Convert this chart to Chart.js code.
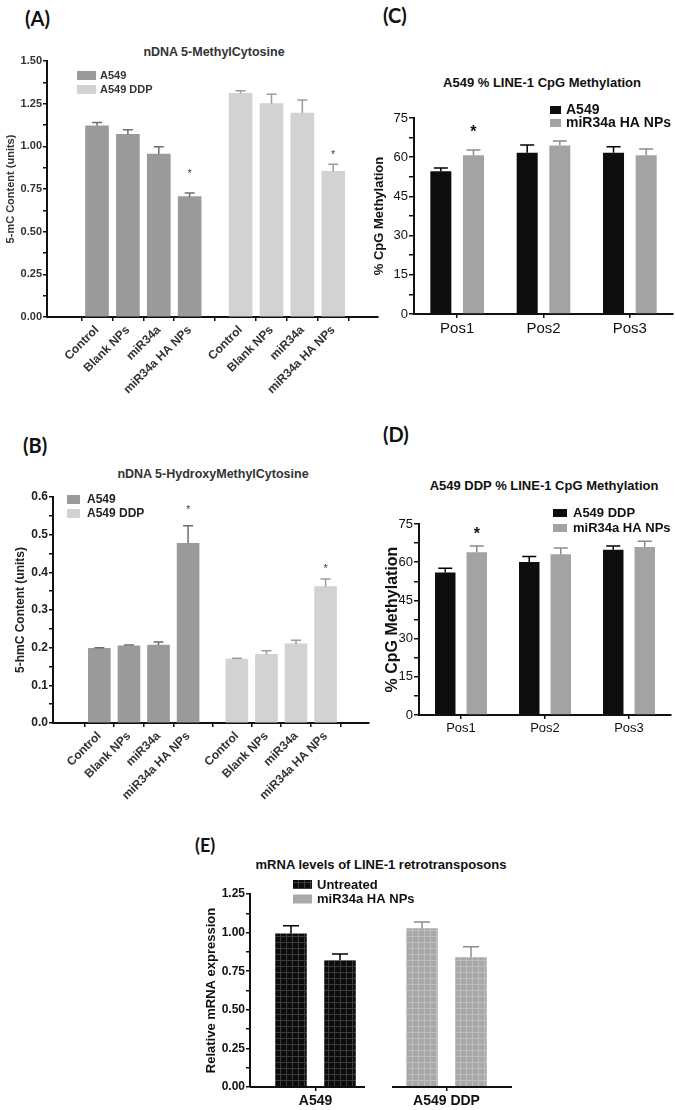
<!DOCTYPE html>
<html>
<head>
<meta charset="utf-8">
<script src="https://cdn.jsdelivr.net/npm/chart.js@4.4.1/dist/chart.umd.min.js"></script>
<style>
  body { margin: 0; background: #fff; }
  #page { position: relative; width: 675px; height: 1110px; overflow: hidden; background: #fff;
          font-family: "Liberation Sans", Arial, sans-serif; }
  #page canvas { position: absolute; }
  .ttl { position: absolute; white-space: nowrap; font-weight: bold; transform: translate(-50%, -50%); }
  .tag { position: absolute; white-space: nowrap; font-family: Lato, "Open Sans", sans-serif; font-weight: bold;
         font-size: 20px; color: #111; transform: translateY(-50%); }
</style>
</head>
<body>
<div id="page">
  <div class="tag" style="left:25px;top:18px">(A)</div>
  <div class="tag" style="left:23px;top:445px">(B)</div>
  <div class="tag" style="left:383px;top:15px">(C)</div>
  <div class="tag" style="left:383px;top:434px">(D)</div>
  <div class="tag" style="left:195px;top:845px;font-size:18px">(E)</div>

  <div class="ttl" style="left:214px;top:52px;font-size:12.5px;color:#333">nDNA 5-MethylCytosine</div>
  <div class="ttl" style="left:213px;top:474px;font-size:12.5px;color:#333">nDNA 5-HydroxyMethylCytosine</div>
  <div class="ttl" style="left:542px;top:82px;font-size:13px;color:#111">A549 % LINE-1 CpG Methylation</div>
  <div class="ttl" style="left:544px;top:485px;font-size:13px;color:#111">A549 DDP % LINE-1 CpG Methylation</div>
  <div class="ttl" style="left:381px;top:864px;font-size:13px;color:#111">mRNA levels of LINE-1 retrotransposons</div>

  <canvas id="chartA"></canvas>
  <canvas id="chartB"></canvas>
  <canvas id="chartC"></canvas>
  <canvas id="chartD"></canvas>
  <canvas id="chartE"></canvas>
</div>

<script>
// ---- data ----
const treatments = ['Control', 'Blank NPs', 'miR34a', 'miR34a HA NPs'];

// (A) 5-mC content
const mcA549 = [1.12, 1.07, 0.955, 0.705];
const mcA549Err = [0.02, 0.027, 0.043, 0.022];
const mcA549Star = [null, null, null, 0.84];
const mcDDP = [1.31, 1.25, 1.195, 0.853];
const mcDDPErr = [0.016, 0.055, 0.076, 0.042];
const mcDDPStar = [null, null, null, 0.95];

// (B) 5-hmC content
const hmcA549 = [0.198, 0.205, 0.207, 0.477];
const hmcA549Err = [0.002, 0.002, 0.008, 0.047];
const hmcA549Star = [null, null, null, 0.565];
const hmcDDP = [0.170, 0.182, 0.210, 0.362];
const hmcDDPErr = [0.002, 0.010, 0.010, 0.020];
const hmcDDPStar = [null, null, null, 0.41];

// (C) / (D) LINE-1 CpG methylation
const cpgPositions = ['Pos1', 'Pos2', 'Pos3'];
const cpgA549 = [54.6, 61.7, 61.7];
const cpgA549Err = [1.3, 3.0, 2.3];
const cpgA549Np = [60.7, 64.5, 60.7];
const cpgA549NpErr = [2.1, 1.7, 2.4];
const cpgA549NpStar = [69.3, null, null];
const cpgDDP = [56.0, 60.1, 64.9];
const cpgDDPErr = [1.6, 2.1, 1.5];
const cpgDDPNp = [63.9, 63.1, 66.0];
const cpgDDPNpErr = [2.5, 2.5, 2.2];
const cpgDDPNpStar = [70.7, null, null];

// (E) LINE-1 mRNA
const cellLines = ['A549', 'A549 DDP'];
const mrnaUntreated = [0.994, 1.028];
const mrnaUntreatedErr = [0.051, 0.041];
const mrnaNp = [0.821, 0.841];
const mrnaNpErr = [0.041, 0.068];

// ---- layout helpers ----
Chart.defaults.font.family = "'Liberation Sans', Arial, sans-serif";
Chart.defaults.color = '#222';

const GROUP_GAP = 0.65;   // extra spacing between the two cell-line groups in A and B
const slotOf = i => i + (i >= treatments.length ? GROUP_GAP : 0);
const slots = treatments.concat(treatments).map((_, i) => slotOf(i));
const asPoints = (vals, offset) => vals.map((v, i) => ({ x: slotOf(i + offset), y: v }));

function setupCanvas(id, box) {
    const c = document.getElementById(id);
    c.width = box.width;
    c.height = box.height;
    c.style.left = box.left + 'px';
    c.style.top = box.top + 'px';
    c.style.width = box.width + 'px';
    c.style.height = box.height + 'px';
    return c;
}

function yAxis(o) {
    return {
        min: 0, max: o.max,
        ticks: {
            stepSize: o.step, autoSkip: false, padding: 1, color: o.color, font: o.font,
            callback: (v, i) => (i % 2 ? '' : o.fmt(v))
        },
        grid: { drawOnChartArea: false, drawTicks: true, tickLength: o.tick || 4, color: '#111', lineWidth: 1.5 },
        border: { display: true, color: '#111', width: 2 },
        title: { display: true, text: o.title, color: o.color, font: o.titleFont, padding: { top: o.titlePad, bottom: 0 } }
    };
}

// error bars (upward only) and significance stars
const errorBars = {
    id: 'errorBars',
    afterDatasetsDraw(chart) {
        const ctx = chart.ctx;
        const y = chart.scales.y;
        chart.data.datasets.forEach((ds, di) => {
            if (!ds.errors) return;
            const meta = chart.getDatasetMeta(di);
            meta.data.forEach((bar, i) => {
                const raw = ds.data[i];
                const val = typeof raw === 'number' ? raw : raw.y;
                const top = y.getPixelForValue(val + ds.errors[i]);
                ctx.save();
                ctx.strokeStyle = Array.isArray(ds.errorColor) ? ds.errorColor[i] : ds.errorColor;
                ctx.lineWidth = 1.5;
                ctx.beginPath();
                ctx.moveTo(bar.x, bar.y);
                ctx.lineTo(bar.x, top);
                ctx.moveTo(bar.x - ds.capWidth / 2, top);
                ctx.lineTo(bar.x + ds.capWidth / 2, top);
                ctx.stroke();
                if (ds.stars && ds.stars[i] != null) {
                    ctx.fillStyle = ds.starColor || '#111';
                    ctx.font = ds.starFont;
                    ctx.textAlign = 'center';
                    ctx.textBaseline = 'middle';
                    ctx.fillText('*', bar.x, y.getPixelForValue(ds.stars[i]));
                }
                ctx.restore();
            });
        });
    }
};

// small boxed legend drawn at a fixed spot (page coordinates)
const boxLegend = {
    id: 'boxLegend',
    afterDraw(chart, args, o) {
        if (o.x == null) return;
        const ctx = chart.ctx;
        const ox = chart.canvas.offsetLeft, oy = chart.canvas.offsetTop;
        ctx.save();
        ctx.font = o.font;
        ctx.textBaseline = 'middle';
        chart.data.datasets.forEach((ds, i) => {
            const yy = o.y + i * o.step - oy;
            const xx = o.x - ox;
            ctx.fillStyle = o.swatches ? o.swatches[i] : ds.backgroundColor;
            ctx.fillRect(xx, yy, o.w, o.h);
            ctx.fillStyle = o.color;
            ctx.fillText(ds.label, xx + o.w + o.gap, yy + o.h / 2 + 0.5);
        });
        ctx.restore();
    }
};

// x axis drawn as one segment per group (panel E)
const splitAxis = {
    id: 'splitAxis',
    afterDraw(chart, args, o) {
        if (!o.on) return;
        const x = chart.scales.x;
        const n = chart.data.labels.length;
        const w = (x.right - x.left) / n;
        const ctx = chart.ctx;
        ctx.save();
        ctx.strokeStyle = '#111';
        ctx.lineWidth = 2;
        for (let i = 0; i < n; i++) {
            const a = x.left + i * w + (i > 0 ? o.gapAfter : 0);
            const b = x.left + (i + 1) * w - (i < n - 1 ? o.gapBefore : 0);
            ctx.beginPath();
            ctx.moveTo(a, x.top);
            ctx.lineTo(b, x.top);
            ctx.stroke();
        }
        ctx.restore();
    }
};

function makeChart(id, box, area, config) {
    const canvas = setupCanvas(id, box);
    config.options.responsive = false;
    config.options.animation = false;
    config.options.devicePixelRatio = 1;
    config.options.layout = {
        padding: { top: area.t - box.top, right: box.left + box.width - area.r, left: 0, bottom: 0 }
    };
    config.options.scales.x.afterFit = s => { s.height = box.top + box.height - area.b; };
    config.options.scales.y.afterFit = s => { s.width = area.l - box.left; };
    config.plugins = [errorBars, boxLegend, splitAxis];
    return new Chart(canvas.getContext('2d'), config);
}

function gridPattern(base, line) {
    const c = document.createElement('canvas');
    c.width = 6; c.height = 6;
    const g = c.getContext('2d');
    g.fillStyle = base;
    g.fillRect(0, 0, 6, 6);
    g.fillStyle = line;
    g.fillRect(0, 0, 1, 6);
    g.fillRect(0, 0, 6, 1);
    return g.createPattern(c, 'repeat');
}

const darkGray = '#9a9a9a', lightGray = '#d2d2d2';
const black = '#0d0d0d', midGray = '#a3a3a3';

// ---- (A) ----
function groupedXAxis(o) {
    return {
        type: 'linear', min: o.min, max: o.max,
        afterBuildTicks: s => { s.ticks = slots.map(v => ({ value: v })); },
        ticks: {
            autoSkip: false, minRotation: 45, maxRotation: 45, padding: 2, color: '#333',
            font: { size: 12, weight: 'bold' },
            callback: (v, i) => treatments[i % treatments.length]
        },
        grid: { drawOnChartArea: false, drawTicks: true, tickLength: 4, color: '#111', lineWidth: 1.5 },
        border: { display: true, color: '#111', width: 2 }
    };
}

makeChart('chartA', { left: 0, top: 40, width: 385, height: 360 }, { l: 47, t: 61, r: 378, b: 317 }, {
    type: 'bar',
    data: {
        datasets: [
            { label: 'A549', data: asPoints(mcA549, 0), backgroundColor: darkGray, errors: mcA549Err,
              errorColor: '#6e6e6e', capWidth: 10, stars: mcA549Star, starFont: '11px "Liberation Sans"', starColor: '#444' },
            { label: 'A549 DDP', data: asPoints(mcDDP, 4), backgroundColor: lightGray, errors: mcDDPErr,
              errorColor: '#9c9c9c', capWidth: 10, stars: mcDDPStar, starFont: '11px "Liberation Sans"', starColor: '#444' }
        ]
    },
    options: {
        datasets: { bar: { grouped: false, barThickness: 23, borderWidth: 0 } },
        plugins: {
            legend: { display: false }, tooltip: { enabled: false },
            boxLegend: { x: 77, y: 71, w: 19, h: 9, step: 14, gap: 4, font: 'bold 11px "Liberation Sans"', color: '#333' }
        },
        scales: {
            x: groupedXAxis({ min: -0.95, max: 8.43 }),
            y: yAxis({ max: 1.5, step: 0.125, fmt: v => v.toFixed(2), color: '#333',
                       font: { size: 11, weight: 'bold' }, title: '5-mC Content (units)',
                       titleFont: { size: 11, weight: 'bold' }, titlePad: 4 })
        }
    }
});

// ---- (B) ----
makeChart('chartB', { left: 0, top: 470, width: 380, height: 330 }, { l: 53, t: 497, r: 369, b: 723 }, {
    type: 'bar',
    data: {
        datasets: [
            { label: 'A549', data: asPoints(hmcA549, 0), backgroundColor: darkGray, errors: hmcA549Err,
              errorColor: '#6e6e6e', capWidth: 10, stars: hmcA549Star, starFont: '11px "Liberation Sans"', starColor: '#444' },
            { label: 'A549 DDP', data: asPoints(hmcDDP, 4), backgroundColor: lightGray, errors: hmcDDPErr,
              errorColor: '#9c9c9c', capWidth: 10, stars: hmcDDPStar, starFont: '11px "Liberation Sans"', starColor: '#444' }
        ]
    },
    options: {
        datasets: { bar: { grouped: false, barThickness: 22, borderWidth: 0 } },
        plugins: {
            legend: { display: false }, tooltip: { enabled: false },
            boxLegend: { x: 67, y: 495, w: 13, h: 9, step: 14, gap: 7, font: 'bold 12px "Liberation Sans"', color: '#222' }
        },
        scales: {
            x: groupedXAxis({ min: -0.90, max: 8.45 }),
            y: yAxis({ max: 0.6, step: 0.05, fmt: v => v.toFixed(1), color: '#222',
                       font: { size: 12, weight: 'bold' }, title: '5-hmC Content (units)',
                       titleFont: { size: 12, weight: 'bold' }, titlePad: 13 })
        }
    }
});

// ---- (C) and (D) ----
function posXAxis(size) {
    return {
        ticks: { padding: 2, color: '#111', font: { size: size } },
        grid: { drawOnChartArea: false, drawTicks: true, tickLength: 4, color: '#111', lineWidth: 1.5, offset: false },
        border: { display: true, color: '#111', width: 2 }
    };
}

makeChart('chartC', { left: 365, top: 95, width: 310, height: 250 }, { l: 414, t: 118, r: 673, b: 314 }, {
    type: 'bar',
    data: {
        labels: cpgPositions,
        datasets: [
            { label: 'A549', data: cpgA549, backgroundColor: black, errors: cpgA549Err, errorColor: '#000', capWidth: 14 },
            { label: 'miR34a HA NPs', data: cpgA549Np, backgroundColor: midGray, errors: cpgA549NpErr,
              errorColor: '#8a8a8a', capWidth: 14, stars: cpgA549NpStar, starFont: 'bold 16px "Liberation Sans"' }
        ]
    },
    options: {
        datasets: { bar: { categoryPercentage: 0.756, barPercentage: 0.644, borderWidth: 0 } },
        plugins: {
            legend: { display: false }, tooltip: { enabled: false },
            boxLegend: { x: 550, y: 106, w: 11, h: 8, step: 13, gap: 5, font: 'bold 14px "Liberation Sans"', color: '#111' }
        },
        scales: {
            x: posXAxis(15),
            y: yAxis({ max: 75, step: 7.5, fmt: v => String(v), color: '#111', tick: 5,
                       font: { size: 13, family: "'Liberation Sans Narrow', 'Liberation Sans'" },
                       title: '% CpG Methylation', titleFont: { size: 13, weight: 'bold' }, titlePad: 7 })
        }
    }
});

makeChart('chartD', { left: 370, top: 500, width: 305, height: 245 }, { l: 419, t: 524, r: 671, b: 715 }, {
    type: 'bar',
    data: {
        labels: cpgPositions,
        datasets: [
            { label: 'A549 DDP', data: cpgDDP, backgroundColor: black, errors: cpgDDPErr, errorColor: '#000', capWidth: 14 },
            { label: 'miR34a HA NPs', data: cpgDDPNp, backgroundColor: midGray, errors: cpgDDPNpErr,
              errorColor: '#8a8a8a', capWidth: 14, stars: cpgDDPNpStar, starFont: 'bold 16px "Liberation Sans"' }
        ]
    },
    options: {
        datasets: { bar: { categoryPercentage: 0.75, barPercentage: 0.65, borderWidth: 0 } },
        plugins: {
            legend: { display: false }, tooltip: { enabled: false },
            boxLegend: { x: 553, y: 509, w: 14, h: 8, step: 15, gap: 6, font: 'bold 13px "Liberation Sans"', color: '#111' }
        },
        scales: {
            x: posXAxis(13),
            y: yAxis({ max: 75, step: 7.5, fmt: v => String(v), color: '#111', tick: 5,
                       font: { size: 13, family: "'Liberation Sans Narrow', 'Liberation Sans'" },
                       title: '% CpG Methylation', titleFont: { size: 16, weight: 'bold' }, titlePad: 13 })
        }
    }
});

// ---- (E) ----
const blackGrid = gridPattern('#0c0c0c', '#3c3c3c');
const grayGrid = gridPattern('#a8a8a8', '#bebebe');

makeChart('chartE', { left: 190, top: 870, width: 340, height: 240 }, { l: 250, t: 894, r: 512, b: 1087 }, {
    type: 'bar',
    data: {
        labels: cellLines,
        datasets: [
            { label: 'Untreated', data: mrnaUntreated, backgroundColor: [blackGrid, grayGrid], errors: mrnaUntreatedErr,
              errorColor: ['#000', '#8c8c8c'], capWidth: 16 },
            { label: 'miR34a HA NPs', data: mrnaNp, backgroundColor: [blackGrid, grayGrid], errors: mrnaNpErr,
              errorColor: ['#000', '#8c8c8c'], capWidth: 16 }
        ]
    },
    options: {
        datasets: { bar: { categoryPercentage: 0.748, barPercentage: 0.643, borderWidth: 0 } },
        plugins: {
            legend: { display: false }, tooltip: { enabled: false },
            boxLegend: { x: 293, y: 880, w: 19, h: 9, step: 14.5, gap: 5, font: 'bold 13px "Liberation Sans"',
                         color: '#111', swatches: [blackGrid, '#a9a9a9'] },
            splitAxis: { on: true, gapBefore: 16, gapAfter: 11 }
        },
        scales: {
            x: {
                ticks: { padding: 2, color: '#111', font: { size: 14, weight: 'bold' } },
                grid: { drawOnChartArea: false, drawTicks: true, tickLength: 4, color: '#111', lineWidth: 1.5, offset: false },
                border: { display: false }
            },
            y: yAxis({ max: 1.25, step: 0.125, fmt: v => v.toFixed(2), color: '#111',
                       font: { size: 12, weight: 'bold' }, title: 'Relative mRNA expression',
                       titleFont: { size: 13, weight: 'bold' }, titlePad: 14 })
        }
    }
});
</script>
</body>
</html>
